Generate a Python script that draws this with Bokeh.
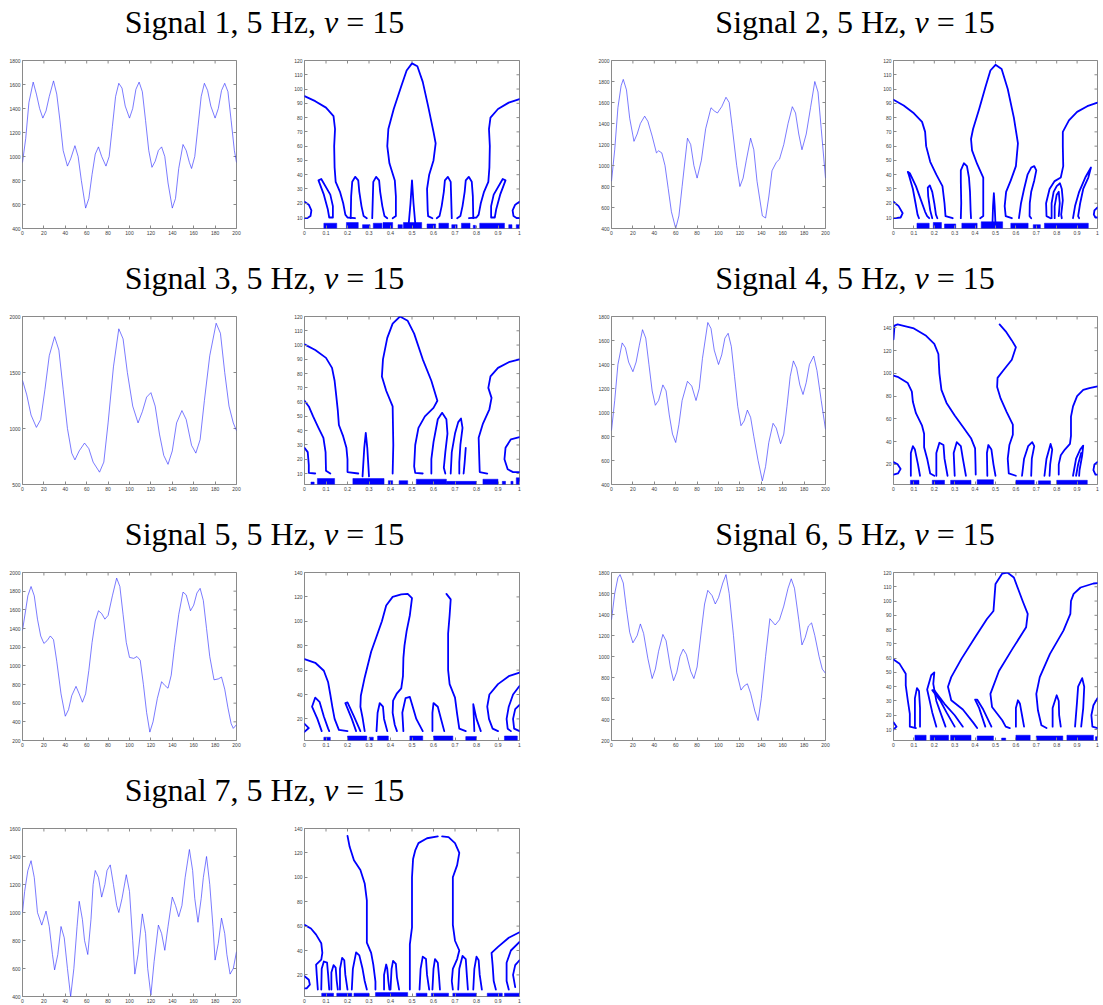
import math
from bokeh.plotting import figure
from bokeh.layouts import column, row
from bokeh.models import Div, FixedTicker, Range1d
from bokeh.embed import file_html
from bokeh.resources import INLINE

# ---------------- titles ----------------
signal_ids = [1, 2, 3, 4, 5, 6, 7]
freq_hz = 5
nu_value = 15

# ---------------- signals (time, value) ----------------
sig1_t = [0, 3, 6, 10, 13, 16, 19, 22, 25, 29, 32, 35, 38, 42, 45, 49, 52, 55, 59, 62, 65, 68, 71, 74, 78, 81, 84, 87, 90, 93,
          96, 100, 103, 106, 109, 112, 115, 118, 121, 124, 127, 130, 133, 136, 140, 143, 146, 150, 153, 156, 158, 161, 164,
          167, 170, 173, 176, 180, 183, 186, 189, 192, 195, 198, 200]
sig1_v = [950, 1150, 1450, 1620, 1520, 1400, 1320, 1380, 1500, 1630, 1520, 1300, 1050, 920, 980, 1090, 1000, 800, 570, 650,
          850, 1020, 1080, 1000, 920, 1000, 1250, 1500, 1610, 1570, 1420, 1320, 1400, 1560, 1620, 1540, 1300, 1050, 910, 960,
          1050, 1080, 1000, 780, 570, 650, 900, 1100, 1050, 950, 900, 1000, 1250, 1500, 1610, 1550, 1420, 1320, 1400, 1550,
          1610, 1540, 1300, 1050, 950]

sig2_t = [0, 3, 6, 9, 11, 14, 17, 21, 24, 27, 31, 34, 38, 42, 44, 47, 50, 53, 56, 60, 63, 66, 71, 74, 77, 80, 84, 88, 93, 96,
          99, 103, 107, 110, 113, 117, 120, 123, 126, 130, 133, 136, 141, 144, 147, 150, 154, 157, 161, 165, 169, 172, 175,
          178, 182, 186, 190, 193, 196, 200]
sig2_v = [850, 1150, 1550, 1760, 1820, 1720, 1450, 1230, 1300, 1400, 1470, 1420, 1280, 1120, 1140, 1120, 1000, 780, 560, 400,
          520, 800, 1260, 1200, 1000, 880, 1050, 1350, 1550, 1520, 1500, 1560, 1650, 1600, 1350, 1000, 800, 880, 1050, 1260,
          1150, 850, 520, 500, 700, 950, 1030, 1060, 1200, 1400, 1560, 1500, 1300, 1150, 1300, 1550, 1800, 1700, 1350, 880]

sig3_t = [0, 4, 8, 13, 17, 21, 25, 30, 34, 38, 42, 46, 49, 53, 58, 62, 66, 72, 76, 80, 85, 90, 94, 98, 103, 108, 112, 116, 120,
          124, 128, 132, 136, 140, 144, 149, 153, 158, 162, 166, 170, 175, 181, 185, 189, 193, 197, 200]
sig3_v = [1430, 1300, 1120, 1010, 1080, 1350, 1650, 1820, 1700, 1350, 1000, 780, 720, 800, 870, 820, 700, 610, 700, 1050, 1550,
          1890, 1800, 1500, 1200, 1050, 1150, 1280, 1320, 1200, 950, 760, 680, 800, 1050, 1160, 1080, 850, 780, 900, 1250,
          1650, 1940, 1850, 1500, 1200, 1050, 980]

sig4_t = [0, 3, 6, 10, 13, 16, 20, 23, 26, 29, 32, 35, 38, 41, 44, 48, 51, 54, 57, 60, 63, 66, 71, 75, 79, 82, 85, 90, 93, 96,
          100, 103, 106, 109, 112, 115, 118, 121, 124, 127, 130, 133, 137, 141, 144, 147, 151, 154, 158, 161, 164, 167, 170,
          173, 176, 179, 182, 185, 189, 192, 196, 200]
sig4_v = [850, 1100, 1400, 1580, 1540, 1420, 1340, 1420, 1560, 1690, 1620, 1400, 1180, 1060, 1100, 1230, 1180, 980, 820, 750,
          900, 1100, 1260, 1220, 1100, 1200, 1450, 1750, 1700, 1520, 1400, 1480, 1620, 1660, 1550, 1300, 1050, 890, 930, 1020,
          960, 800, 600, 430, 550, 750, 910, 870, 740, 820, 1050, 1300, 1430, 1370, 1230, 1150, 1250, 1400, 1470, 1350, 1100,
          860]

sig5_t = [0, 3, 5, 8, 11, 14, 17, 20, 23, 26, 29, 32, 36, 40, 43, 46, 50, 53, 56, 59, 62, 65, 68, 71, 74, 77, 80, 84, 88, 91,
          94, 97, 100, 104, 107, 110, 113, 116, 119, 122, 126, 130, 133, 136, 139, 142, 146, 150, 153, 157, 160, 163, 166, 169,
          172, 175, 179, 183, 186, 189, 192, 195, 197, 200]
sig5_v = [1380, 1600, 1750, 1850, 1750, 1500, 1320, 1240, 1270, 1320, 1280, 1050, 700, 460, 530, 680, 780, 700, 610, 700, 950,
          1250, 1480, 1590, 1560, 1500, 1540, 1750, 1940, 1850, 1550, 1250, 1090, 1080, 1100, 1060, 800, 500, 290, 400, 650,
          830, 790, 760, 900, 1200, 1550, 1790, 1760, 1590, 1650, 1780, 1830, 1700, 1400, 1100, 850, 860, 880, 750, 550, 380,
          330, 370]

sig6_t = [0, 3, 6, 8, 11, 14, 17, 20, 24, 27, 30, 34, 38, 41, 44, 48, 51, 55, 58, 61, 64, 67, 70, 74, 77, 80, 84, 87, 90, 94,
          97, 100, 104, 107, 110, 114, 117, 121, 124, 127, 130, 134, 137, 140, 144, 148, 153, 157, 161, 165, 168, 171, 175,
          178, 181, 184, 187, 190, 194, 197, 200]
sig6_v = [1350, 1600, 1750, 1780, 1700, 1450, 1230, 1130, 1200, 1310, 1220, 980, 790, 880, 1050, 1210, 1150, 900, 770, 850,
          1000, 1070, 1020, 860, 790, 900, 1250, 1500, 1630, 1580, 1500, 1560, 1700, 1780, 1600, 1200, 850, 680, 720, 740, 650,
          480, 390, 600, 1000, 1360, 1300, 1350, 1480, 1650, 1740, 1650, 1350, 1110, 1180, 1290, 1320, 1200, 1000, 880, 840]

sig7_t = [0, 2, 5, 8, 11, 14, 18, 20, 22, 25, 28, 30, 33, 36, 39, 42, 45, 48, 51, 53, 56, 58, 61, 64, 66, 68, 71, 74, 77, 79,
          82, 85, 88, 90, 93, 97, 100, 103, 105, 108, 112, 115, 117, 120, 123, 127, 130, 133, 136, 140, 143, 146, 149, 152,
          156, 159, 161, 164, 167, 169, 172, 175, 178, 180, 183, 186, 189, 191, 194, 197, 200]
sig7_v = [1000, 1150, 1300, 1370, 1250, 1000, 910, 960, 1010, 900, 700, 590, 700, 900, 820, 600, 400, 600, 900, 1080, 950, 800,
          700, 950, 1200, 1300, 1250, 1110, 1200, 1300, 1340, 1200, 1050, 1000, 1100, 1270, 1150, 800, 560, 700, 990, 850, 600,
          410, 650, 910, 850, 730, 900, 1110, 1050, 970, 1050, 1250, 1450, 1300, 1100, 930, 1100, 1250, 1400, 1200, 900, 660,
          780, 960, 850, 700, 560, 600, 720]

sig_y_ranges = [(400, 1800), (400, 2000), (500, 2000), (400, 1800), (200, 2000), (200, 1800), (400, 1600)]
sig_y_steps = [200, 200, 500, 200, 200, 200, 200]
time_ticks = [0, 20, 40, 60, 80, 100, 120, 140, 160, 180, 200]

# ---------------- level curves: lists of (x, y) points ----------------
c1_curves = [
    [(0, 95), (0.05, 91.5), (0.1, 87), (0.135, 81), (0.142, 72), (0.138, 60), (0.14, 45), (0.145, 35), (0.165, 28), (0.18, 20), (0.19, 12), (0.2, 10), (0.235, 9.5)],
    [(1, 93), (0.95, 90.5), (0.9, 86), (0.865, 80), (0.858, 72), (0.862, 60), (0.86, 45), (0.855, 35), (0.835, 28), (0.82, 20), (0.81, 12), (0.8, 10), (0.765, 9.5)],
    [(0.41, 9.5), (0.425, 11), (0.425, 25), (0.42, 36), (0.395, 48), (0.385, 60), (0.39, 72), (0.415, 86), (0.45, 102), (0.475, 113), (0.5, 118), (0.525, 116), (0.55, 105), (0.575, 88), (0.6, 70), (0.61, 62), (0.6, 50), (0.58, 40), (0.57, 30), (0.573, 15), (0.575, 11), (0.595, 9.5)],
    [(0.485, 6), (0.493, 20), (0.5, 36), (0.507, 20), (0.515, 6)],
    [(0.215, 9.5), (0.217, 25), (0.222, 35), (0.236, 38.5), (0.25, 36), (0.255, 28), (0.265, 18), (0.275, 11), (0.29, 9.5)],
    [(0.315, 9.5), (0.318, 25), (0.32, 35), (0.333, 38.5), (0.347, 36), (0.352, 28), (0.362, 18), (0.372, 11), (0.385, 9.5)],
    [(0.615, 9.5), (0.628, 11), (0.638, 18), (0.648, 28), (0.653, 36), (0.667, 38.5), (0.68, 35), (0.682, 25), (0.685, 9.5)],
    [(0.71, 9.5), (0.725, 11), (0.735, 18), (0.745, 28), (0.75, 36), (0.764, 38.5), (0.778, 35), (0.783, 25), (0.785, 9.5)],
    [(0.065, 36), (0.09, 26), (0.108, 16), (0.115, 10), (0.132, 10), (0.132, 18), (0.12, 26), (0.078, 37), (0.065, 36)],
    [(0.935, 36), (0.91, 26), (0.892, 16), (0.885, 10), (0.868, 10), (0.868, 18), (0.88, 26), (0.922, 37), (0.935, 36)],
    [(0, 21), (0.02, 19), (0.032, 15), (0.028, 11), (0.012, 9.5), (0, 9.5)],
    [(1, 21), (0.98, 19), (0.968, 15), (0.972, 11), (0.988, 9.5), (1, 9.5)],
]
c1_band = [(0.09, 0.15, 6), (0.195, 0.25, 6.5), (0.27, 0.305, 5), (0.32, 0.36, 6), (0.365, 0.41, 6.5), (0.435, 0.455, 5),
           (0.46, 0.545, 6.5), (0.57, 0.61, 5.5), (0.625, 0.67, 6), (0.685, 0.71, 5), (0.73, 0.77, 6), (0.785, 0.795, 4.5),
           (0.815, 0.93, 6), (0.95, 0.965, 5), (0.985, 1.0, 5)]

c2_curves = [
    [(0, 92.5), (0.05, 88.5), (0.1, 83), (0.14, 77), (0.155, 70), (0.16, 60), (0.18, 49), (0.21, 40), (0.24, 32), (0.25, 20), (0.255, 11), (0.29, 9.5)],
    [(0.425, 9.5), (0.44, 11), (0.44, 25), (0.44, 38), (0.41, 47.5), (0.385, 57), (0.38, 65), (0.39, 72), (0.42, 86), (0.45, 101), (0.475, 113), (0.5, 117), (0.53, 114), (0.56, 100), (0.59, 80), (0.61, 62), (0.6, 46), (0.575, 36), (0.552, 28), (0.545, 18), (0.55, 11), (0.58, 9.5)],
    [(1, 90.5), (0.95, 88), (0.9, 84), (0.86, 78), (0.83, 70), (0.83, 60), (0.832, 46), (0.82, 38), (0.79, 35.5), (0.765, 30), (0.748, 20), (0.75, 11), (0.77, 9.5)],
    [(0.125, 9.5), (0.118, 12), (0.108, 20), (0.095, 30), (0.075, 40), (0.07, 42), (0.08, 41), (0.11, 32), (0.135, 22), (0.155, 14), (0.165, 11), (0.175, 9.5)],
    [(0.19, 9.5), (0.18, 15), (0.17, 25), (0.168, 31), (0.178, 32.5), (0.19, 28), (0.2, 20), (0.208, 12), (0.215, 9.5)],
    [(0.33, 9.5), (0.332, 20), (0.33, 35), (0.33, 43), (0.345, 48), (0.36, 46), (0.37, 38), (0.375, 28), (0.378, 15), (0.38, 9.5)],
    [(0.485, 5), (0.488, 18), (0.492, 27), (0.496, 18), (0.5, 5)],
    [(0.615, 9.5), (0.625, 20), (0.64, 30), (0.657, 40), (0.675, 45), (0.69, 46), (0.7, 43), (0.69, 36), (0.675, 28), (0.668, 20), (0.667, 11), (0.675, 9.5)],
    [(0.775, 9.5), (0.775, 20), (0.785, 28), (0.8, 32), (0.816, 34), (0.825, 30), (0.83, 22), (0.822, 12), (0.825, 9.5)],
    [(0.79, 9.5), (0.79, 18), (0.8, 26), (0.81, 28), (0.815, 20), (0.81, 11)],
    [(0.88, 9.5), (0.89, 18), (0.91, 28), (0.94, 38), (0.968, 45), (0.955, 38), (0.93, 30), (0.915, 20), (0.905, 11), (0.91, 9.5)],
    [(0, 21), (0.025, 18), (0.045, 13), (0.035, 10), (0.01, 9.5), (0, 9.5)],
    [(1, 17), (0.985, 15), (0.982, 12), (0.99, 10), (1, 10)],
]
c2_band = [(0.115, 0.175, 6), (0.195, 0.235, 6.5), (0.25, 0.305, 5.5), (0.335, 0.41, 6), (0.43, 0.535, 7), (0.575, 0.66, 6),
           (0.685, 0.72, 5), (0.74, 0.955, 6)]

c3_curves = [
    [(0, 100.5), (0.05, 96.5), (0.1, 91), (0.128, 84), (0.14, 75), (0.148, 64), (0.155, 54), (0.16, 44), (0.18, 36), (0.195, 28), (0.2, 20), (0.2, 11), (0.25, 10)],
    [(0, 61), (0.02, 57), (0.04, 50), (0.065, 42), (0.088, 35), (0.098, 25), (0.1, 12), (0.12, 10)],
    [(0, 28), (0.015, 25), (0.02, 16), (0.02, 10.5), (0.05, 10)],
    [(0.27, 8), (0.278, 28), (0.285, 38.5), (0.292, 28), (0.3, 8)],
    [(0.41, 10), (0.413, 30), (0.41, 57), (0.38, 68), (0.36, 78), (0.365, 90), (0.385, 105), (0.41, 115), (0.444, 120), (0.48, 117), (0.51, 108), (0.55, 90), (0.59, 75), (0.618, 61), (0.6, 56), (0.56, 50), (0.53, 42), (0.515, 30), (0.51, 15), (0.515, 10.5), (0.55, 10)],
    [(0.59, 10), (0.59, 20), (0.6, 32), (0.62, 48), (0.64, 52.5), (0.66, 48), (0.665, 38), (0.655, 25), (0.648, 14), (0.655, 10)],
    [(0.68, 10), (0.685, 25), (0.7, 38), (0.715, 46), (0.728, 48.5), (0.735, 42), (0.725, 30), (0.72, 18), (0.72, 10)],
    [(0.74, 10), (0.745, 18), (0.75, 28)],
    [(1, 90), (0.95, 88), (0.9, 84), (0.865, 78), (0.855, 70), (0.87, 63), (0.86, 55), (0.83, 45), (0.81, 35), (0.813, 20), (0.815, 11), (0.85, 10)],
    [(1, 35.5), (0.96, 34), (0.935, 28), (0.93, 20), (0.945, 13), (0.97, 11), (1, 11)],
]
c3_band = [(0.03, 0.045, 4), (0.06, 0.14, 6.5), (0.225, 0.37, 6.5), (0.39, 0.41, 5), (0.44, 0.48, 5), (0.52, 0.66, 6),
           (0.66, 0.8, 4.5), (0.83, 0.9, 6), (0.92, 0.935, 4.5), (0.96, 0.97, 4.5), (0.985, 1.0, 7)]

c4_curves = [
    [(0, 130), (0.005, 142), (0.02, 143), (0.1, 139.5), (0.16, 133), (0.2, 126), (0.22, 117), (0.225, 100), (0.235, 85.5), (0.26, 74), (0.3, 63), (0.34, 53), (0.38, 43), (0.4, 34), (0.402, 20), (0.403, 11)],
    [(0, 98), (0.02, 97), (0.07, 91.5), (0.09, 84), (0.095, 75), (0.11, 65), (0.14, 54), (0.15, 47), (0.15, 35), (0.165, 25), (0.18, 12), (0.2, 10)],
    [(0, 22), (0.02, 20), (0.035, 16), (0.022, 12), (0, 11)],
    [(0.52, 143), (0.55, 137), (0.58, 129), (0.6, 123), (0.58, 112), (0.54, 103), (0.51, 96), (0.508, 88), (0.525, 78), (0.555, 66), (0.585, 55), (0.585, 46), (0.568, 37), (0.56, 25), (0.565, 12), (0.6, 10)],
    [(1, 88.5), (0.96, 87), (0.93, 85.5), (0.9, 80), (0.88, 71), (0.87, 62), (0.87, 45), (0.865, 38), (0.84, 33), (0.82, 28), (0.81, 20), (0.81, 11)],
    [(0.085, 10), (0.085, 30), (0.095, 36), (0.105, 33), (0.12, 20), (0.13, 10)],
    [(0.21, 10), (0.21, 30), (0.225, 39), (0.245, 37), (0.25, 25), (0.265, 10)],
    [(0.3, 10), (0.295, 30), (0.31, 39.5), (0.33, 36), (0.34, 25), (0.355, 10)],
    [(0.46, 10), (0.458, 30), (0.465, 37), (0.48, 33), (0.49, 20), (0.5, 10)],
    [(0.63, 10), (0.64, 25), (0.66, 36), (0.68, 39.5), (0.69, 36), (0.678, 25), (0.675, 10)],
    [(0.74, 10), (0.75, 25), (0.77, 38), (0.778, 33), (0.768, 20), (0.765, 10)],
    [(0.88, 10), (0.895, 25), (0.915, 33), (0.93, 36.5), (0.925, 28), (0.912, 15), (0.91, 10)],
    [(0.895, 10), (0.905, 20), (0.92, 30)],
    [(1, 22), (0.985, 20), (0.98, 15), (0.99, 11), (1, 11)],
]
c4_band = [(0.083, 0.125, 6), (0.19, 0.25, 6), (0.28, 0.38, 6), (0.41, 0.49, 6.5), (0.6, 0.69, 6), (0.71, 0.77, 5.5),
           (0.8, 0.95, 6)]

c5_curves = [
    [(0, 69), (0.05, 66), (0.09, 59.5), (0.11, 50), (0.12, 40), (0.13, 29.5), (0.14, 20), (0.16, 11), (0.2, 10)],
    [(0.28, 10), (0.27, 21), (0.26, 30), (0.262, 39), (0.28, 54), (0.31, 75), (0.34, 90), (0.36, 100), (0.38, 113), (0.41, 120), (0.45, 122), (0.48, 122.5), (0.5, 119), (0.49, 105), (0.475, 92), (0.465, 80), (0.46, 70), (0.458, 55), (0.45, 45), (0.43, 41), (0.412, 35), (0.41, 25), (0.42, 15), (0.43, 10)],
    [(0.66, 122.5), (0.68, 118), (0.675, 105), (0.668, 90), (0.668, 60), (0.675, 48.5), (0.7, 37.5), (0.71, 24), (0.72, 12), (0.75, 10)],
    [(1, 58), (0.95, 55), (0.9, 48.5), (0.86, 40), (0.85, 30), (0.858, 20), (0.875, 12), (0.9, 10)],
    [(1, 47), (0.97, 40), (0.95, 30), (0.94, 20), (0.945, 12), (0.96, 10)],
    [(1, 31.5), (0.98, 28), (0.97, 20), (0.975, 12), (1, 10)],
    [(0.08, 10), (0.06, 20), (0.035, 30), (0.05, 37.5), (0.07, 34), (0.09, 22), (0.11, 12), (0.115, 10)],
    [(0.24, 10), (0.22, 20), (0.19, 33), (0.2, 33.5), (0.23, 22), (0.26, 10)],
    [(0.335, 10), (0.34, 25), (0.35, 33), (0.365, 30), (0.37, 20), (0.385, 10)],
    [(0.46, 10), (0.455, 25), (0.47, 37), (0.49, 38), (0.5, 32), (0.52, 20), (0.55, 10)],
    [(0.595, 10), (0.595, 25), (0.6, 33), (0.62, 30), (0.635, 20), (0.65, 10)],
    [(0.79, 10), (0.785, 32), (0.8, 20), (0.82, 10)],
    [(0, 16), (0.02, 12.5), (0, 9.5)],
]
c5_band = [(0.09, 0.12, 5), (0.2, 0.29, 6), (0.3, 0.32, 5), (0.34, 0.39, 6), (0.49, 0.55, 6), (0.6, 0.69, 6),
           (0.75, 0.8, 5.5), (0.93, 0.99, 6)]

c6_curves = [
    [(0, 59), (0.03, 56), (0.06, 49), (0.06, 41), (0.07, 30.5), (0.08, 21), (0.08, 12), (0.11, 11)],
    [(0, 15), (0.015, 12), (0, 10)],
    [(0.41, 11), (0.39, 15), (0.34, 24), (0.283, 30.5), (0.267, 40), (0.283, 46.7), (0.333, 59.5), (0.4, 74.7), (0.458, 87.4), (0.49, 93), (0.5, 112), (0.533, 119.3), (0.558, 120), (0.59, 116.5), (0.633, 100), (0.658, 91), (0.65, 81.6), (0.583, 66.5), (0.517, 51), (0.475, 35), (0.483, 25.8), (0.533, 16.5), (0.55, 12), (0.57, 11)],
    [(1, 112.5), (0.98, 112.3), (0.917, 109.5), (0.883, 105), (0.87, 100), (0.867, 91), (0.833, 79.3), (0.767, 63), (0.717, 46.7), (0.7, 35), (0.708, 23.5), (0.725, 13), (0.75, 11)],
    [(0.105, 12), (0.105, 32), (0.115, 39), (0.125, 37), (0.13, 25), (0.13, 12)],
    [(0.21, 12), (0.19, 22), (0.165, 38), (0.185, 48), (0.2, 50), (0.195, 42), (0.21, 30), (0.24, 18), (0.255, 12)],
    [(0.3, 12), (0.26, 22), (0.23, 30), (0.19, 37.5), (0.2, 37.5), (0.25, 28), (0.3, 20), (0.34, 12)],
    [(0.45, 12), (0.42, 25), (0.4, 31), (0.41, 31), (0.44, 24), (0.47, 15), (0.48, 12)],
    [(0.6, 12), (0.6, 25), (0.61, 30.5), (0.62, 28), (0.63, 20), (0.64, 12)],
    [(0.78, 12), (0.78, 25), (0.8, 34), (0.81, 30), (0.812, 20), (0.82, 12)],
    [(0.89, 12), (0.9, 30), (0.905, 40), (0.925, 46), (0.935, 40), (0.93, 25), (0.92, 12)],
    [(1, 32), (0.98, 27), (0.97, 20), (0.975, 12), (1, 11)],
]
c6_band = [(0.105, 0.16, 6), (0.18, 0.27, 6), (0.28, 0.38, 6), (0.41, 0.49, 5.5), (0.53, 0.55, 4), (0.6, 0.67, 6),
           (0.7, 0.83, 5.5), (0.85, 0.98, 6), (0.99, 1.0, 5)]

c7_curves = [
    [(0, 61), (0.03, 58), (0.054, 53), (0.078, 46), (0.083, 38), (0.078, 32.5), (0.054, 28.4), (0.057, 20), (0.062, 8)],
    [(0, 19), (0.02, 16), (0.025, 12), (0.01, 9), (0, 9)],
    [(0.2, 134), (0.21, 125), (0.23, 114), (0.26, 106), (0.28, 95), (0.29, 81), (0.29, 61.6), (0.29, 46.4), (0.31, 38), (0.32, 28.4), (0.33, 14.5), (0.33, 8)],
    [(0.49, 8), (0.49, 30), (0.49, 45), (0.5, 59), (0.5, 100), (0.505, 115), (0.515, 122), (0.53, 128), (0.57, 132), (0.62, 133.5)],
    [(0.64, 133.5), (0.67, 133), (0.7, 128), (0.72, 120), (0.71, 110), (0.69, 100), (0.69, 81), (0.69, 61), (0.7, 48), (0.72, 40), (0.71, 33), (0.69, 25), (0.685, 15), (0.69, 8)],
    [(1, 55), (0.95, 50.5), (0.9, 43), (0.87, 38), (0.875, 28), (0.88, 15), (0.89, 8)],
    [(1, 47), (0.96, 40), (0.94, 30), (0.94, 15), (0.95, 8)],
    [(1, 32), (0.98, 28), (0.97, 20), (0.98, 10)],
    [(0.078, 8), (0.08, 25), (0.09, 31), (0.105, 30), (0.11, 20), (0.115, 8)],
    [(0.125, 8), (0.125, 22), (0.135, 28), (0.145, 26), (0.15, 15), (0.155, 8)],
    [(0.165, 8), (0.165, 25), (0.175, 34), (0.185, 32), (0.19, 20), (0.2, 8)],
    [(0.22, 8), (0.225, 25), (0.24, 38.5), (0.255, 36), (0.27, 25), (0.28, 15), (0.29, 8)],
    [(0.37, 8), (0.37, 20), (0.38, 28.5), (0.385, 25), (0.39, 15), (0.395, 8)],
    [(0.4, 8), (0.405, 25), (0.412, 31.5), (0.425, 29), (0.43, 18), (0.44, 8)],
    [(0.535, 8), (0.54, 25), (0.55, 35), (0.565, 33), (0.57, 20), (0.58, 8)],
    [(0.595, 8), (0.6, 25), (0.607, 33), (0.62, 30), (0.625, 20), (0.63, 8)],
    [(0.715, 8), (0.72, 25), (0.735, 35.5), (0.75, 33), (0.755, 20), (0.76, 8)],
    [(0.785, 8), (0.79, 25), (0.8, 35), (0.81, 32), (0.815, 20), (0.825, 8)],
]
c7_band = [(0.08, 0.135, 5), (0.15, 0.22, 5), (0.23, 0.3, 5), (0.33, 0.48, 5.5), (0.52, 0.57, 5), (0.59, 0.67, 5),
           (0.69, 0.8, 5), (0.85, 0.92, 5), (0.93, 1.0, 5)]

con_y_ranges = [(2.3, 120), (2.3, 120), (2.3, 120), (2.3, 150), (2.3, 140), (2.3, 120), (2.3, 140)]
con_y_ticks = [
    [10, 20, 30, 40, 50, 60, 70, 80, 90, 100, 110, 120],
    [10, 20, 30, 40, 50, 60, 70, 80, 90, 100, 110, 120],
    [10, 20, 30, 40, 50, 60, 70, 80, 90, 100, 110, 120],
    [20, 40, 60, 80, 100, 120, 140],
    [20, 40, 60, 80, 100, 120, 140],
    [10, 20, 30, 40, 50, 60, 70, 80, 90, 100, 110, 120],
    [20, 40, 60, 80, 100, 120, 140],
]
con_x_ticks = [0, 0.1, 0.2, 0.3, 0.4, 0.5, 0.6, 0.7, 0.8, 0.9, 1]
con_x_labels = ["0", "0.1", "0.2", "0.3", "0.4", "0.5", "0.6", "0.7", "0.8", "0.9", "1"]

signals = [(sig1_t, sig1_v), (sig2_t, sig2_v), (sig3_t, sig3_v), (sig4_t, sig4_v),
           (sig5_t, sig5_v), (sig6_t, sig6_v), (sig7_t, sig7_v)]
curves = [c1_curves, c2_curves, c3_curves, c4_curves, c5_curves, c6_curves, c7_curves]
bands = [c1_band, c2_band, c3_band, c4_band, c5_band, c6_band, c7_band]

# ---------------- styling / layout ----------------
AXC = "#8a8a8a"
LBL = "#3a3a3a"
FRAME_H = 168
TOP_B = 8
TITLE_H = 52
SIG_W, SIG_BL, SIG_BR = [270, 282], [22, 21], [34, 47]
CON_W, CON_BL, CON_BR = [320, 229], [34, 21], [71, 4]
TITLE_CX = [264.5, 855]


def style_axis(ax, ticks, overrides=None):
    ax.ticker = FixedTicker(ticks=ticks)
    ax.axis_line_color = None
    ax.major_tick_in = 3
    ax.major_tick_out = 0
    ax.major_tick_line_color = AXC
    ax.minor_tick_line_color = None
    ax.major_label_text_font = "Liberation Sans"
    ax.major_label_text_font_size = "5px"
    ax.major_label_text_color = LBL
    ax.major_label_standoff = 2
    if overrides:
        ax.major_label_overrides = overrides


def make_fig(width, bl, br, bottom, xr, yr, xt, yt, xover=None):
    p = figure(width=width, height=TOP_B + FRAME_H + bottom,
               x_range=Range1d(*xr), y_range=Range1d(*yr),
               output_backend="svg", toolbar_location=None,
               min_border_left=bl, min_border_right=br,
               min_border_top=TOP_B, min_border_bottom=bottom)
    p.xgrid.visible = False
    p.ygrid.visible = False
    p.outline_line_color = AXC
    p.outline_line_width = 1
    style_axis(p.xaxis[0], xt, xover)
    style_axis(p.yaxis[0], yt)
    # inward tick marks on the top and right edges of the box (clipped to the frame)
    p.scatter(x=xt, y=[yr[1]] * len(xt), marker="dash", angle=math.pi / 2, size=6,
              line_color=AXC, line_width=1)
    p.scatter(x=[xr[1]] * len(yt), y=yt, marker="dash", size=6, line_color=AXC, line_width=1)
    return p


def title_html(ids):
    spans = []
    for k, sid in enumerate(ids):
        spans.append(
            '<span style="position:absolute;left:%spx;top:6px;transform:translateX(-50%%);white-space:nowrap;">'
            'Signal %d, %d Hz, <i>&nu;</i> = %d</span>' % (TITLE_CX[k], sid, freq_hz, nu_value))
    return ('<div style="position:relative;width:1100px;height:%dpx;font-family:\'Liberation Serif\',\'Times New Roman\',serif;'
            'font-size:32px;line-height:32px;color:#000;">' % TITLE_H + "".join(spans) + '</div>')


rows = []
for r in range(4):
    ids = [i for i in (2 * r, 2 * r + 1) if i < 7]
    bottom = 28 if r < 3 else 9
    figs = []
    for col, i in enumerate(ids):
        t, v = signals[i]
        lo, hi = sig_y_ranges[i]
        yt = list(range(lo, hi + 1, sig_y_steps[i]))
        ps = make_fig(SIG_W[col], SIG_BL[col], SIG_BR[col], bottom, (0, 200), (lo, hi), time_ticks, yt)
        ps.line(t, v, color="#2f2fff", line_width=0.8, line_alpha=0.8)
        figs.append(ps)

        pc = make_fig(CON_W[col], CON_BL[col], CON_BR[col], bottom, (0, 1), con_y_ranges[i],
                      con_x_ticks, con_y_ticks[i], dict(zip(con_x_ticks, con_x_labels)))
        y0 = con_y_ranges[i][0]
        band = bands[i]
        pc.quad(left=[b[0] for b in band], right=[b[1] for b in band],
                bottom=[y0] * len(band), top=[b[2] for b in band],
                fill_color="#0000ff", line_color="#0000ff", line_width=0.5)
        pc.multi_line(xs=[[pt[0] for pt in c] for c in curves[i]],
                      ys=[[pt[1] for pt in c] for c in curves[i]],
                      line_color="#0000ff", line_width=1.8, line_join="round", line_cap="round")
        figs.append(pc)
    title = Div(text=title_html([signal_ids[i] for i in ids]), width=1100, height=TITLE_H, margin=0)
    rows.append(column(title, row(*figs)))

layout = column(*rows)
open("out.html", "w").write(file_html(layout, INLINE))
